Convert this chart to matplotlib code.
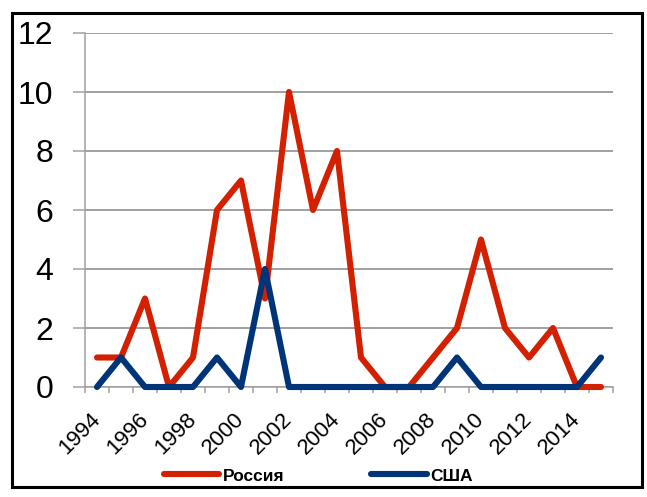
import matplotlib
matplotlib.use("Agg")
import matplotlib.pyplot as plt
from matplotlib.patches import Rectangle
from matplotlib.lines import Line2D

years = list(range(1994, 2016))
russia = [1, 1, 3, 0, 1, 6, 7, 3, 10, 6, 8, 1, 0, 0, 1, 2, 5, 2, 1, 2, 0, 0]
usa = [0, 1, 0, 0, 0, 1, 0, 4, 0, 0, 0, 0, 0, 0, 0, 1, 0, 0, 0, 0, 0, 1]
yticks = [0, 2, 4, 6, 8, 10, 12]
series_names = ["Россия", "США"]

RED = "#D22000"
BLUE = "#003478"
GRID = "#A0A0A0"

plt.rcParams['font.family'] = ['Liberation Sans', 'DejaVu Sans']

W, H = 647, 497
fig = plt.figure(figsize=(W / 100, H / 100), dpi=100)
ax = fig.add_axes([85 / W, 1 - 387 / H, (613 - 85) / W, (387 - 33) / H])

x = list(range(len(years)))
ax.plot(x, russia, color=RED, lw=4.4, solid_capstyle='round', solid_joinstyle='round',
        clip_on=False, zorder=3, label=series_names[0])
ax.plot(x, usa, color=BLUE, lw=4.4, solid_capstyle='round', solid_joinstyle='round',
        clip_on=False, zorder=4, label=series_names[1])

ax.set_xlim(-0.5, len(years) - 0.5)
ax.set_ylim(0, 12)
ax.set_yticks(yticks)
ax.set_yticklabels([str(v) for v in yticks], fontsize=23)
ax.yaxis.grid(True, color=GRID, lw=1.4)
ax.set_axisbelow(True)
ax.tick_params(axis='y', length=8.6, width=1.1, color=GRID, pad=14)

ax.set_xticks(x[::2])
ax.set_xticklabels([str(y) for y in years[::2]], fontsize=16, rotation=45,
                   ha='right', va='center', rotation_mode='anchor')
ax.set_xticks([i - 0.5 for i in range(len(years) + 1)], minor=True)
ax.tick_params(axis='x', which='major', length=0, pad=21)
ax.tick_params(axis='x', which='minor', length=4.5, width=1.1, color=GRID)

for s in ['top', 'right']:
    ax.spines[s].set_visible(False)
for s in ['left', 'bottom']:
    ax.spines[s].set_color(GRID)
    ax.spines[s].set_linewidth(1.1)

handles = [Line2D([0], [0], color=RED, lw=4.4, solid_capstyle='round'),
           Line2D([0], [0], color=BLUE, lw=4.4, solid_capstyle='round')]
fig.legend(handles, series_names, loc='center', bbox_to_anchor=(318 / W, 1 - 476 / H),
           ncol=2, frameon=False, handlelength=3.2, handletextpad=0.2,
           columnspacing=5.0, prop={'weight': 'bold', 'size': 12.5})

fig.patches.append(Rectangle((12 / W, 1 - 487 / H), (642 - 12) / W, (487 - 13) / H,
                             transform=fig.transFigure, fill=False, ec='black', lw=2.2))

fig.savefig("out.png", dpi=100)
